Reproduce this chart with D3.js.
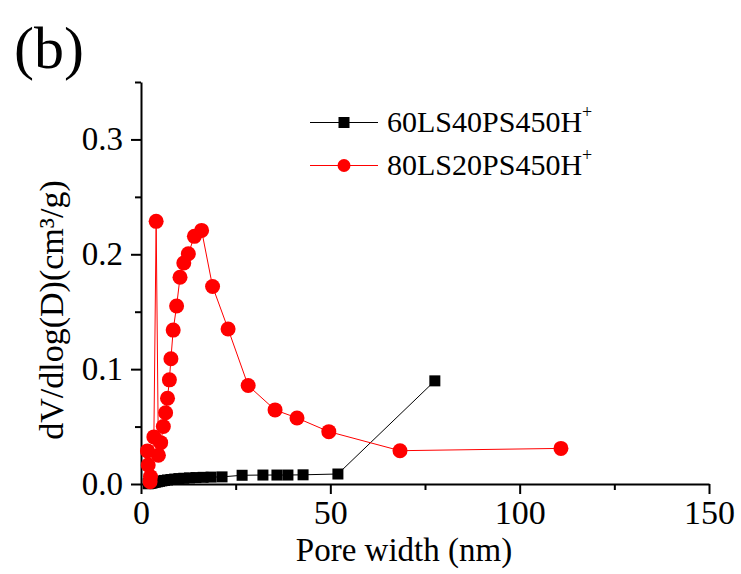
<!DOCTYPE html>
<html>
<head>
<meta charset="utf-8">
<script src="https://cdn.jsdelivr.net/npm/d3@7"></script>
<style>
  html, body { margin: 0; padding: 0; background: #fff; }
  svg { display: block; }
  text { font-family: "Liberation Serif", "Times New Roman", serif; fill: #000; }
</style>
</head>
<body>
<svg id="chart" width="741" height="574"></svg>
<script>
// ---- data ----
const seriesNames = ["60LS40PS450H", "80LS20PS450H"];
const blackX = [1.9, 2.1, 2.4, 2.7, 3.0, 3.4, 3.8, 4.3, 4.9, 5.5, 6.2, 7.0, 7.9, 8.9, 10.0, 11.3, 12.8, 14.5, 16.4, 18.5, 21.4, 26.7, 32.2, 35.9, 38.8, 42.8, 52.0, 77.6];
const blackY = [0.0002, 0.0004, 0.0006, 0.0008, 0.0010, 0.0013, 0.0016, 0.0019, 0.0023, 0.0027, 0.0031, 0.0035, 0.0039, 0.0043, 0.0047, 0.0050, 0.0053, 0.0056, 0.0058, 0.0060, 0.0062, 0.0076, 0.0078, 0.0078, 0.0078, 0.0080, 0.0087, 0.0898];
const redX = [110.9, 68.4, 49.6, 41.2, 35.4, 28.3, 23.0, 18.9, 16.0, 14.1, 12.5, 11.3, 10.3, 9.4, 8.5, 7.9, 7.5, 7.0, 6.5, 5.9, 5.2, 4.6, 4.0, 3.4, 2.4, 2.5, 1.9, 1.7];
const redY = [0.031, 0.029, 0.0456, 0.0575, 0.0645, 0.0857, 0.135, 0.172, 0.2208, 0.2156, 0.2005, 0.1924, 0.180, 0.155, 0.134, 0.109, 0.0907, 0.0747, 0.062, 0.050, 0.036, 0.025, 0.2287, 0.041, 0.002, 0.0064, 0.0166, 0.0288];
const xMajorTicks = [0, 50, 100, 150];
const xMinorTicks = [25, 75, 125];
const yMajorTicks = [0, 0.1, 0.2, 0.3];
const yMinorTicks = [0.05, 0.15, 0.25, 0.35];

// ---- layout ----
const svg = d3.select("#chart");
const x = d3.scaleLinear().domain([0, 150]).range([141, 709]);
const y = d3.scaleLinear().domain([0, 0.35]).range([484, 82]);

const fmtY = d3.format(".1f");

// minor ticks
svg.append("g").attr("transform", `translate(0,${y(0)})`)
  .call(d3.axisBottom(x).tickValues(xMinorTicks).tickSize(6).tickFormat(""))
  .call(g => g.select(".domain").remove())
  .call(g => g.selectAll("line").attr("stroke-width", 2));
svg.append("g").attr("transform", `translate(${x(0)},0)`)
  .call(d3.axisLeft(y).tickValues(yMinorTicks).tickSize(6).tickFormat(""))
  .call(g => g.select(".domain").remove())
  .call(g => g.selectAll("line").attr("stroke-width", 2));

// major axes
const xAxis = svg.append("g").attr("transform", `translate(0,${y(0)})`)
  .call(d3.axisBottom(x).tickValues(xMajorTicks).tickSize(10).tickSizeOuter(0).tickPadding(6).tickFormat(d3.format("d")));
xAxis.selectAll("text").attr("font-size", 34).attr("font-family", "Liberation Serif");
xAxis.selectAll("line, path").attr("stroke-width", 2);

const yAxis = svg.append("g").attr("transform", `translate(${x(0)},0)`)
  .call(d3.axisLeft(y).tickValues(yMajorTicks).tickSize(10).tickSizeOuter(0).tickPadding(8).tickFormat(fmtY));
yAxis.selectAll("text").attr("font-size", 33).attr("font-family", "Liberation Serif");
yAxis.selectAll("line, path").attr("stroke-width", 2);

// axis titles
svg.append("text").attr("x", 404).attr("y", 561).attr("text-anchor", "middle")
  .attr("font-size", 33).text("Pore width (nm)");
svg.append("text").attr("transform", "translate(63,310) rotate(-90)").attr("text-anchor", "middle")
  .attr("font-size", 34).text("dV/dlog(D)(cm³/g)");

// panel label
svg.append("text").attr("x", 14).attr("y", 68).attr("font-size", 60).text("(b)");

// ---- series ----
const black = blackX.map((v, i) => [v, blackY[i]]);
const red = redX.map((v, i) => [v, redY[i]]);
const line = d3.line().x(d => x(d[0])).y(d => y(d[1]));

svg.append("path").datum(black).attr("d", line).attr("fill", "none").attr("stroke", "#000").attr("stroke-width", 1);
svg.append("g").selectAll("rect").data(black).join("rect")
  .attr("x", d => x(d[0]) - 5.5).attr("y", d => y(d[1]) - 5.5)
  .attr("width", 11).attr("height", 11).attr("fill", "#000");

svg.append("path").datum(red).attr("d", line).attr("fill", "none").attr("stroke", "#ff0000").attr("stroke-width", 1);
svg.append("g").selectAll("circle").data(red).join("circle")
  .attr("cx", d => x(d[0])).attr("cy", d => y(d[1])).attr("r", 7.5).attr("fill", "#ff0000");

// ---- legend ----
const legend = svg.append("g");
const legendRows = [
  { name: seriesNames[0], color: "#000", shape: "square", cy: 122.5 },
  { name: seriesNames[1], color: "#ff0000", shape: "circle", cy: 165.5 }
];
legendRows.forEach(r => {
  legend.append("line").attr("x1", 310).attr("x2", 378).attr("y1", r.cy).attr("y2", r.cy)
    .attr("stroke", r.color).attr("stroke-width", 1);
  if (r.shape === "square") {
    legend.append("rect").attr("x", 344 - 5.5).attr("y", r.cy - 5.5).attr("width", 11).attr("height", 11).attr("fill", r.color);
  } else {
    legend.append("circle").attr("cx", 344).attr("cy", r.cy).attr("r", 6.5).attr("fill", r.color);
  }
  const t = legend.append("text").attr("x", 387).attr("y", r.cy + 9).attr("font-size", 30);
  t.append("tspan").text(r.name);
  t.append("tspan").attr("font-size", 18).attr("dy", -14).text("+");
});
</script>
</body>
</html>
